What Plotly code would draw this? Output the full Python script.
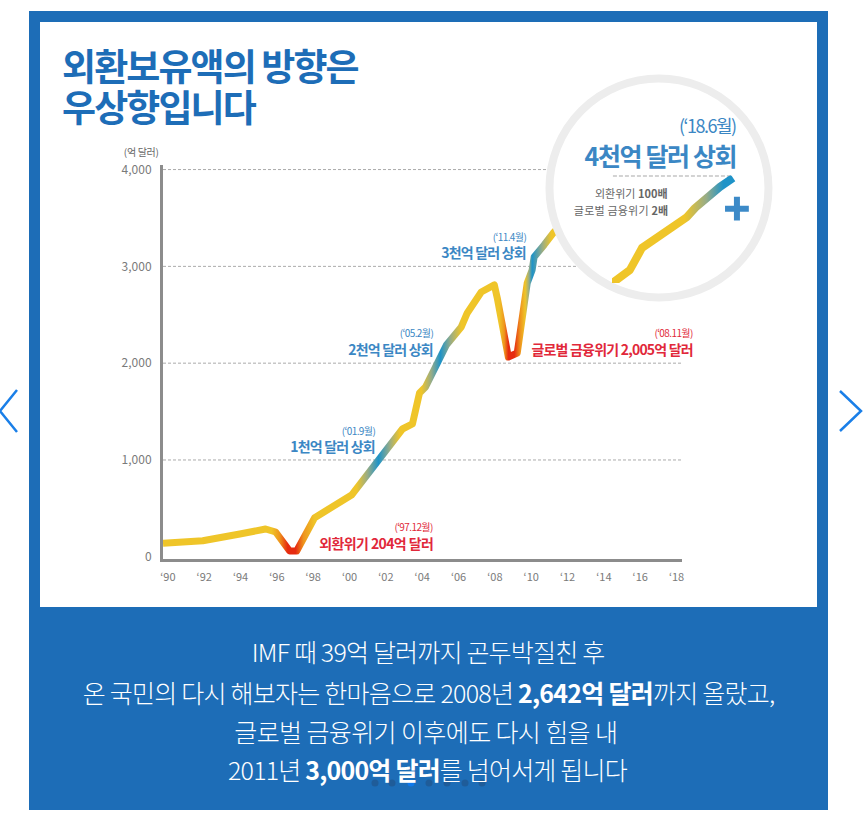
import json
import plotly.graph_objects as go

# reserves, 100m USD
years = [1989.73, 1991.92, 1993.96, 1995.38, 1995.93, 1996.7, 1997.09, 1998.08, 2000.11, 2001.59,
         2002.91, 2003.46, 2003.63, 2003.85, 2004.18, 2004.84, 2005.33, 2006.15, 2006.48, 2007.25,
         2007.97, 2008.13, 2008.35, 2008.74, 2009.23, 2009.62, 2009.78, 2010.05, 2010.16, 2010.71,
         2011.26, 2012.36]
reserves = [139, 166, 236, 287, 256, 60, 60, 404, 638, 1010,
            1320, 1372, 1527, 1692, 1754, 2012, 2188, 2374, 2519, 2735,
            2808, 2674, 2415, 2064, 2105, 2580, 2828, 2963, 3097, 3221,
            3355, 3562]

# the magnified end of the curve inside the circle
inset_years = [2013.42, 2014.24, 2014.74, 2015.61, 2016.6, 2016.93, 2017.43, 2017.96, 2018.5]
inset_reserves = [3390, 3473, 3596, 3680, 3769, 3819, 3881, 3937, 3987]

y_ticks = [0, 1000, 2000, 3000, 4000]
grid_values = [1000, 2000, 3000, 4000]
x_ticks = list(range(1990, 2020, 2))
x_labels = ["‘" + str(y)[2:] for y in x_ticks]

YELLOW = "#EFC529"
ORANGE = "#EE951D"
RED = "#E62B10"
BLUE = "#1E93C8"
GREY = "#96AC88"
main_stops = [(1995.71, YELLOW), (1996.15, ORANGE), (1996.59, RED), (1997.03, RED), (1997.47, ORANGE),
              (1998.08, YELLOW), (2000.38, YELLOW), (2001.0, GREY), (2001.59, BLUE), (2002.2, GREY),
              (2002.75, YELLOW), (2003.96, YELLOW), (2004.5, GREY), (2005.0, BLUE), (2005.55, GREY),
              (2006.15, YELLOW), (2008.24, YELLOW), (2008.52, ORANGE), (2008.74, RED), (2009.07, RED),
              (2009.4, ORANGE), (2009.67, YELLOW), (2009.88, GREY), (2010.05, BLUE), (2010.6, GREY),
              (2011.1, YELLOW)]
inset_stops = [(2016.5, YELLOW), (2017.4, GREY), (2018.1, BLUE), (2018.5, BLUE)]

FONT = "Noto Sans CJK KR"
FRAME = "#1D6DB7"
LABEL_BLUE = "#3B87C4"
LABEL_RED = "#E1283A"
W, H = 866, 829
X_RANGE = [1989.73, 2018.3]
X2_RANGE = [2013.5, 2019.2]


def fx(p):
    return p / W


def fy(p):
    return 1 - p / H


fig = go.Figure()
fig.add_trace(go.Scatter(x=years, y=reserves, mode="lines", uid="mainline", xaxis="x", yaxis="y",
                         line=dict(color=YELLOW, width=7), hoverinfo="skip"))
# circle sits in the second subplot so the inset curve can go on top of it
fig.add_trace(go.Scatter(x=[2015.44], y=[3931], mode="markers", xaxis="x2", yaxis="y2", cliponaxis=False,
                         marker=dict(size=219, color="white", line=dict(color="#EDEDED", width=8)),
                         hoverinfo="skip"))
fig.add_trace(go.Scatter(x=[2011.06, 2018.5], y=[4000, 4000], mode="lines", xaxis="x2", yaxis="y2",
                         cliponaxis=False, line=dict(color="#A8A8A8", width=2, dash="4px,2px"),
                         hoverinfo="skip"))
fig.add_trace(go.Scatter(x=inset_years, y=inset_reserves, mode="lines", uid="insetline", xaxis="x2", yaxis="y2",
                         cliponaxis=False, line=dict(color=YELLOW, width=8), hoverinfo="skip"))
fig.add_trace(go.Scatter(x=[2018.66], y=[3815], mode="markers", xaxis="x2", yaxis="y2", cliponaxis=False,
                         marker=dict(symbol="cross-thin", size=17, line=dict(color="#3C8AC8", width=6)),
                         hoverinfo="skip"))

shapes = [
    dict(type="rect", xref="paper", yref="paper", x0=fx(29), x1=fx(828), y0=fy(810), y1=fy(11),
         fillcolor=FRAME, line_width=0, layer="below"),
    dict(type="rect", xref="paper", yref="paper", x0=fx(40), x1=fx(817), y0=fy(607), y1=fy(22),
         fillcolor="white", line_width=0, layer="below"),
    dict(type="path", xref="paper", yref="paper", layer="below",
         path=f"M {fx(17)} {fy(390)} L {fx(0)} {fy(411)} L {fx(17)} {fy(432)}",
         line=dict(color="#1A7FE8", width=2.5)),
    dict(type="path", xref="paper", yref="paper", layer="below",
         path=f"M {fx(840)} {fy(391)} L {fx(861)} {fy(411)} L {fx(840)} {fy(431)}",
         line=dict(color="#1A7FE8", width=2.5)),
]
for v in grid_values:
    shapes.append(dict(type="line", xref="x domain", yref="y", x0=0, x1=1, y0=v, y1=v, layer="below",
                       line=dict(color="#ABABAB", width=1, dash="3px,2px")))
for i, cx in enumerate([375, 392, 411, 429, 447, 465, 482]):
    shapes.append(dict(type="circle", xref="paper", yref="paper", layer="below", line_width=0,
                       x0=fx(cx - 3.5), x1=fx(cx + 3.5), y0=fy(786.5), y1=fy(779.5),
                       fillcolor="#0F78EC" if i == 2 else "#1F5C99"))

# text, x edge, y centre, anchor, size, colour, letter spacing, weight
texts = [
    ("외환보유액의 방향은", 61, 65, "left", 37, FRAME, -1.9, 700),
    ("우상향입니다", 61, 106, "left", 37, FRAME, -1.9, 700),
    ("(억 달러)", 160, 152, "right", 10, "#666666", -0.3, 400),
    ("(‘97.12월)", 434, 526, "right", 10, LABEL_RED, -0.6, 400),
    ("외환위기 204억 달러", 434, 543, "right", 14, LABEL_RED, -0.6, 700),
    ("(‘01.9월)", 376, 430, "right", 10, LABEL_BLUE, -0.6, 400),
    ("1천억 달러 상회", 376, 446, "right", 14, LABEL_BLUE, -0.8, 700),
    ("(‘05.2월)", 434, 333, "right", 10, LABEL_BLUE, -0.6, 400),
    ("2천억 달러 상회", 434, 349, "right", 14, LABEL_BLUE, -0.8, 700),
    ("(‘11.4월)", 527, 236, "right", 10, LABEL_BLUE, -0.6, 400),
    ("3천억 달러 상회", 527, 252, "right", 14, LABEL_BLUE, -0.8, 700),
    ("(‘08.11월)", 694, 333, "right", 10, LABEL_RED, -0.6, 400),
    ("글로벌 금융위기 2,005억 달러", 694, 349, "right", 14, LABEL_RED, -0.8, 700),
    ("(‘18.6월)", 737, 125, "right", 18, LABEL_BLUE, -1.5, 400),
    ("4천억 달러 상회", 737, 155, "right", 25, LABEL_BLUE, -1.4, 700),
    ("외환위기 <b>100배</b>", 669, 193, "right", 11, "#666666", 0, 400),
    ("글로벌 금융위기 <b>2배</b>", 669, 210, "right", 11, "#666666", 0.2, 400),
    ("IMF 때 39억 달러까지 곤두박질친 후", 428, 651, "center", 25, "white", -0.8, 300),
    ("온 국민의 다시 해보자는 한마음으로 2008년 <b>2,642억 달러</b>까지 올랐고,", 428, 692, "center", 25, "white", -0.75, 300),
    ("글로벌 금융위기 이후에도 다시 힘을 내", 426, 731, "center", 25, "white", -0.6, 300),
    ("2011년 <b>3,000억 달러</b>를 넘어서게 됩니다", 427, 769, "center", 25, "white", -0.8, 300),
]
annotations = []
for t, x, y, side, size, color, spacing, weight in texts:
    annotations.append(dict(text=t, xref="paper", yref="paper", x=fx(x), y=fy(y), xanchor=side, yanchor="middle",
                            align=side, showarrow=False, borderpad=0,
                            font=dict(family=FONT, size=size, color=color, weight=weight)))

fig.update_layout(
    template="none",
    width=W, height=H, margin=dict(l=0, r=0, t=0, b=0), showlegend=False,
    paper_bgcolor="white", plot_bgcolor="rgba(0,0,0,0)", font=dict(family=FONT, color="#7A7A7A"),
    shapes=shapes, annotations=annotations,
    xaxis=dict(domain=[fx(163), fx(682)], range=X_RANGE, tickvals=x_ticks, ticktext=x_labels, showgrid=False,
               automargin=False, zeroline=False, showline=True, linecolor="#8C8C8C", linewidth=3,
               ticks="outside", ticklen=6, tickcolor="rgba(0,0,0,0)", tickfont=dict(size=11, color="#7A7A7A")),
    yaxis=dict(domain=[fy(558.5), fy(165)], range=[-17.6, 4047], tickvals=y_ticks, tickformat=",", showgrid=False,
               automargin=False, zeroline=False, showline=True, linecolor="#8C8C8C", linewidth=3,
               ticks="outside", ticklen=6, tickcolor="rgba(0,0,0,0)", tickfont=dict(size=12, color="#7A7A7A")),
    xaxis2=dict(domain=[fx(612), fx(750)], range=X2_RANGE, anchor="y2", visible=False, automargin=False),
    yaxis2=dict(domain=[fy(283), fy(175.6)], range=[3400, 4000], anchor="x2", visible=False, automargin=False),
)


def gradient(stops, rng):
    return [[(y - rng[0]) / (rng[1] - rng[0]), c] for y, c in stops]


# plotly has no gradient line, so the stroke of the two curves is swapped for an svg gradient
post = """
document.body.style.margin = '0';
document.documentElement.style.overflow = 'hidden';
var gd = document.getElementById('{plot_id}');
var spacing = SPACING;
spacing.forEach(function(s, i) {
    var el = gd.querySelector('.annotation[data-index="' + i + '"] text');
    if (el) el.style.letterSpacing = s + 'px';
});
var defs = gd.querySelector('.main-svg defs');
function grad(id, uid, stops, width) {
    var ns = 'http://www.w3.org/2000/svg';
    var g = document.createElementNS(ns, 'linearGradient');
    g.setAttribute('id', id);
    g.setAttribute('gradientUnits', 'userSpaceOnUse');
    g.setAttribute('x1', 0); g.setAttribute('x2', width);
    g.setAttribute('y1', 0); g.setAttribute('y2', 0);
    stops.forEach(function(s) {
        var st = document.createElementNS(ns, 'stop');
        st.setAttribute('offset', s[0]);
        st.setAttribute('stop-color', s[1]);
        g.appendChild(st);
    });
    defs.appendChild(g);
    var path = gd.querySelector('.trace' + uid + ' path.js-line');
    path.style.stroke = 'url(#' + id + ')';
    path.style.strokeLinejoin = 'round';
}
grad('mainGrad', 'mainline', MAIN, MAINW);
grad('insetGrad', 'insetline', INSET, INSETW);
"""
post = (post.replace("SPACING", json.dumps([t[6] for t in texts]))
        .replace("MAINW", str(682 - 163)).replace("INSETW", str(750 - 612))
        .replace("MAIN", json.dumps(gradient(main_stops, X_RANGE)))
        .replace("INSET", json.dumps(gradient(inset_stops, X2_RANGE))))

fig.write_html("out.html", post_script=post, config=dict(displayModeBar=False))
